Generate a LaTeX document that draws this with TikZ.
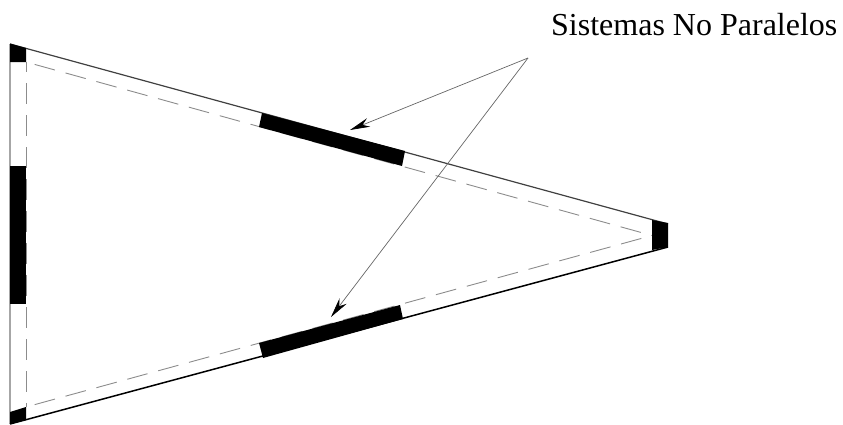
\documentclass[tikz,border=0pt]{standalone}
\usepackage{fontspec}
\setmainfont{Liberation Serif}
\usetikzlibrary{arrows.meta}
\tikzset{
  chord/.style={line width=1.2pt, black!75},
  side/.style={line width=1.4pt, black!35},
  center/.style={line width=0.9pt, black!45, dash pattern=on 21pt off 11pt},
  band/.style={fill=black, draw=none},
  pointer/.style={line width=0.7pt, black!60, -{Stealth[length=20pt,width=9pt,black]}}
}
\begin{document}
\begin{tikzpicture}[x=1pt, y=-1pt]
  \useasboundingbox (0, 0) rectangle (843, 424);

  \coordinate (a) at (10, 44);
  \coordinate (b) at (26, 62);
  \coordinate (c) at (10, 424);
  \coordinate (d) at (26, 407);
  \coordinate (e) at (668, 224);
  \coordinate (f) at (668, 247);
  \coordinate (g) at (652, 235.5);
  \coordinate (from) at (528, 58);
  \coordinate (upper) at (350, 130);
  \coordinate (lower) at (331, 317);

  \draw[side] (a) -- (c);
  \draw[chord] (a) -- (e);
  \draw[chord, line width=1.5pt, black] (c) -- (f);

  \draw[center, dash phase=11pt] (b) -- (d);
  \foreach \i/\j in {b/g, d/g} {
      \draw[center, dash phase=23pt] (\i) -- (\j);
  }

  \fill[band] (10, 43.5) -- (26, 48) -- (26, 62) -- (10, 62) -- cycle;
  \fill[band] (10, 166) rectangle (26, 304);
  \fill[band] (10, 412) -- (26, 407) -- (26, 420) -- (10, 424) -- cycle;
  \fill[band] (262, 113) -- (405, 151) -- (402, 166) -- (259, 127) -- cycle;
  \fill[band] (259, 343) -- (400, 305) -- (403, 319) -- (263, 358) -- cycle;
  \fill[band] (652, 220) -- (668, 223) -- (668, 247) -- (652, 250) -- cycle;

  \node[anchor=base west, inner sep=0pt, font=\fontsize{32}{36}\selectfont] (title) at (551, 35) {Sistemas No Paralelos};

  \foreach \j in {upper, lower} {
      \draw[pointer] (from) -- (\j);
  }
\end{tikzpicture}
\end{document}
